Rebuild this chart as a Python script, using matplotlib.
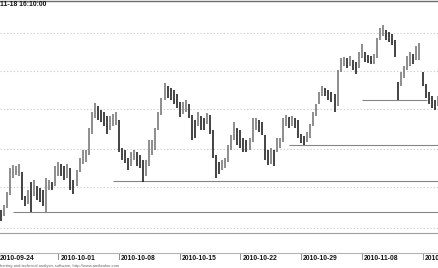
import matplotlib
matplotlib.use("Agg")
import matplotlib.pyplot as plt
from matplotlib.lines import Line2D
from matplotlib import transforms
import numpy as np

# ---------------- data ----------------
high = [
    1.3090, 1.3095, 1.3108, 1.3132, 1.3135, 1.3134, 1.3136, 1.3128, 1.3104, 1.3110,
    1.3118, 1.3120, 1.3114, 1.3112, 1.3110, 1.3122, 1.3120, 1.3118, 1.3134, 1.3138,
    1.3136, 1.3134, 1.3136, 1.3132, 1.3120, 1.3130, 1.3142, 1.3150, 1.3150, 1.3172,
    1.3188, 1.3197, 1.3194, 1.3190, 1.3188, 1.3184, 1.3184, 1.3186, 1.3188, 1.3180,
    1.3152, 1.3150, 1.3142, 1.3148, 1.3150, 1.3148, 1.3145, 1.3140, 1.3140, 1.3160,
    1.3160, 1.3172, 1.3188, 1.3202, 1.3217, 1.3214, 1.3212, 1.3210, 1.3206, 1.3198,
    1.3198, 1.3200, 1.3196, 1.3185, 1.3180, 1.3188, 1.3184, 1.3182, 1.3187, 1.3185,
    1.3170, 1.3145, 1.3138, 1.3140, 1.3142, 1.3155, 1.3165, 1.3178, 1.3172, 1.3170,
    1.3162, 1.3160, 1.3162, 1.3182, 1.3182, 1.3180, 1.3178, 1.3165, 1.3150, 1.3152,
    1.3150, 1.3162, 1.3162, 1.3182, 1.3185, 1.3183, 1.3184, 1.3182, 1.3180, 1.3166,
    1.3164, 1.3168, 1.3176, 1.3188, 1.3196, 1.3208, 1.3214, 1.3212, 1.3210, 1.3208,
    1.3206, 1.3230, 1.3242, 1.3243, 1.3242, 1.3244, 1.3240, 1.3238, 1.3248, 1.3256,
    1.3248, 1.3245, 1.3244, 1.3246, 1.3262, 1.3272, 1.3275, 1.3270, 1.3268, 1.3266,
    1.3260, 1.3218, 1.3228, 1.3234, 1.3244, 1.3248, 1.3246, 1.3254, 1.3257, 1.3228,
    1.3216, 1.3208, 1.3204, 1.3200, 1.3204,
]
low = [
    1.3079, 1.3084, 1.3092, 1.3105, 1.3122, 1.3125, 1.3124, 1.3100, 1.3094, 1.3096,
    1.3088, 1.3104, 1.3100, 1.3098, 1.3094, 1.3088, 1.3110, 1.3110, 1.3114, 1.3124,
    1.3124, 1.3120, 1.3122, 1.3110, 1.3106, 1.3114, 1.3128, 1.3136, 1.3138, 1.3145,
    1.3166, 1.3182, 1.3180, 1.3178, 1.3174, 1.3166, 1.3170, 1.3174, 1.3175, 1.3148,
    1.3140, 1.3137, 1.3130, 1.3134, 1.3140, 1.3134, 1.3132, 1.3118, 1.3124, 1.3134,
    1.3145, 1.3150, 1.3170, 1.3185, 1.3200, 1.3202, 1.3200, 1.3196, 1.3192, 1.3183,
    1.3186, 1.3188, 1.3182, 1.3160, 1.3162, 1.3174, 1.3170, 1.3170, 1.3176, 1.3166,
    1.3142, 1.3122, 1.3126, 1.3130, 1.3132, 1.3138, 1.3150, 1.3160, 1.3155, 1.3152,
    1.3148, 1.3148, 1.3150, 1.3158, 1.3170, 1.3168, 1.3165, 1.3140, 1.3135, 1.3136,
    1.3134, 1.3148, 1.3152, 1.3158, 1.3174, 1.3172, 1.3174, 1.3172, 1.3162, 1.3157,
    1.3155, 1.3158, 1.3162, 1.3174, 1.3184, 1.3196, 1.3204, 1.3204, 1.3200, 1.3198,
    1.3188, 1.3194, 1.3228, 1.3234, 1.3232, 1.3234, 1.3230, 1.3226, 1.3232, 1.3242,
    1.3238, 1.3237, 1.3236, 1.3236, 1.3242, 1.3260, 1.3264, 1.3260, 1.3258, 1.3255,
    1.3243, 1.3200, 1.3214, 1.3222, 1.3230, 1.3234, 1.3236, 1.3240, 1.3240, 1.3214,
    1.3202, 1.3196, 1.3192, 1.3190, 1.3194,
]
bar_index = list(range(1, len(high) + 1))

grid_levels = [1.3267, 1.3229, 1.3191, 1.3151, 1.3113, 1.3072]

support_levels = [1.3088, 1.3119, 1.3155, 1.3200]
support_start = [5, 38, 96, 120]
support_end = [145.5, 145.5, 145.5, 141.5]

date_ticks = [0, 20, 40, 60, 80, 100, 120, 140]
date_labels = ["2010-09-24", "2010-10-01", "2010-10-08", "2010-10-15",
               "2010-10-22", "2010-10-29", "2010-11-08", "2010-11-15"]

title_text = "11-18 16:10:00"
footer_text = "harting and technical analysis software, http://www.amibroker.com"

# ---------------- figure ----------------
W, H = 439, 268
fig = plt.figure(figsize=(W / 100, H / 100), dpi=100)
fig.patch.set_facecolor("white")

pane_top_px, pane_bot_px = 0.5, 233.0
ax = fig.add_axes([0, 1 - pane_bot_px / H, 1, (pane_bot_px - pane_top_px) / H])
ax.set_facecolor("white")
ax.set_xlim(0.791, 145.43)
ax.set_ylim(1.3067, 1.32995)

# gridlines
ax.set_yticks(grid_levels)
ax.set_xticks([])
ax.tick_params(axis="y", length=0, labelleft=False)
ax.grid(axis="y", color="#c8c8c8", linestyle=(0, (1, 2)), linewidth=0.8)
ax.set_axisbelow(True)

for s in ["left", "right"]:
    ax.spines[s].set_visible(False)
ax.spines["top"].set_color("#6e6e6e")
ax.spines["top"].set_linewidth(1.0)
ax.spines["bottom"].set_color("#a0a0a0")
ax.spines["bottom"].set_linewidth(0.8)

# support lines
for lvl, s, e in zip(support_levels, support_start, support_end):
    ax.hlines(lvl, s, e, colors="#858585", linewidth=0.8, zorder=2)

# price bars
hi = np.array(high)
lo = np.array(low)
mid = (hi + lo) / 2
up = np.r_[False, mid[1:] > mid[:-1]]
colors = ["#6f6f6f" if u else "#111111" for u in up]
ax.vlines(bar_index, lo, hi, colors=colors, linewidth=1.1, zorder=3)

# ---------------- date strip ----------------
fy = lambda px: 1 - px / H
fig.add_artist(Line2D([0, 1], [fy(253), fy(253)], transform=fig.transFigure,
                      color="#b4b4b4", linewidth=0.8))
bt = transforms.blended_transform_factory(ax.transData, fig.transFigure)
for t, lab in zip(date_ticks, date_labels):
    fig.add_artist(Line2D([t, t], [fy(254), fy(258.5)], transform=bt,
                          color="#8c8c8c", linewidth=0.7))
    tt = transforms.offset_copy(bt, fig=fig, x=2, y=0, units="dots")
    fig.text(t, fy(258.3), lab, transform=tt, ha="left", va="center",
             fontsize=4.85, fontweight="bold", family="Liberation Sans",
             color="#111111")

fig.text(0.0, fy(265.5), footer_text, ha="left", va="center", fontsize=2.95,
         family="Liberation Sans", color="#666666")

fig.text(0.5 / W, fy(5.0), title_text, ha="left", va="center", fontsize=4.85,
         fontweight="bold", family="Liberation Sans", color="#111111")

fig.savefig("out.png", dpi=100, facecolor="white")
